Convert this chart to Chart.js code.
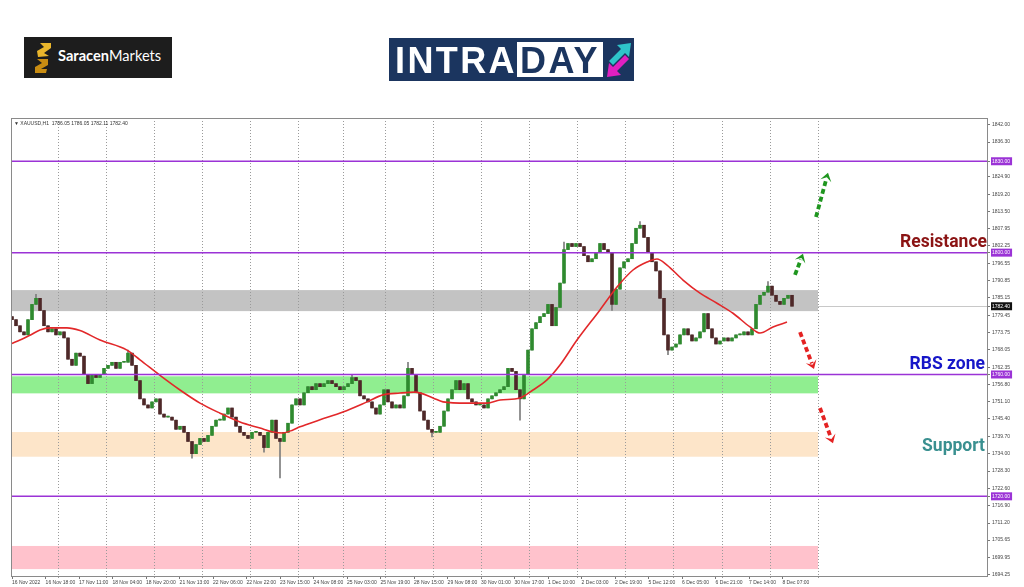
<!DOCTYPE html>
<html>
<head>
<meta charset="utf-8">
<title>XAUUSD H1 intraday</title>
<script src="https://cdn.jsdelivr.net/npm/chart.js@4.4.1/dist/chart.umd.min.js"></script>
<style>
  html, body { margin: 0; padding: 0; background: #fff; }
  #wrap { position: relative; width: 1024px; height: 587px; overflow: hidden; font-family: Roboto, "Liberation Sans", sans-serif; }
  #chart { position: absolute; left: 0; top: 0; }
  .saracen { position: absolute; left: 24px; top: 37px; width: 148px; height: 41px; background: #1d1d1d; }
  .saracen svg { position: absolute; left: 10px; top: 6px; }
  .saracen span { position: absolute; left: 34px; top: 10px; color: #fff; font: 14.6px Lato, Roboto, sans-serif; white-space: nowrap; }
  .saracen b { font-weight: 700; }
  .intraday { position: absolute; left: 389px; top: 38px; width: 245px; height: 43px; background: #1b355f; }
  .intraday .a { position: absolute; left: 6px; top: 2px; color: #fff; font: 700 36px "Liberation Sans", Arial, sans-serif; letter-spacing: 2.4px; }
  .intraday .b { position: absolute; left: 128px; top: 4px; width: 86px; height: 35px; background: #fff; }
  .intraday .b span { position: absolute; left: 3px; top: -2px; color: #1b355f; font: 700 36px "Liberation Sans", Arial, sans-serif; letter-spacing: 2.4px; }
  .intraday svg { position: absolute; left: 216px; top: 3px; }
  .info { position: absolute; left: 14px; top: 120px; font: 5px "Liberation Sans", sans-serif; color: #333; white-space: nowrap; }
  .note { position: absolute; font: 700 17.5px Roboto, sans-serif; white-space: nowrap; line-height: 18px; }
</style>
</head>
<body>
<div id="wrap">
  <canvas id="chart" width="1024" height="587"></canvas>
  <div class="saracen">
    <svg width="18" height="30" viewBox="0 0 18 30">
      <polygon points="6,0 17,0 17,5 10,10 15,13 4,14 3,8 10,4" fill="#eab62c"/>
      <polygon points="3,16 14,16 14,22 7,26 13,26 12,30 1,30 1,24 8,20" fill="#c98d12"/>
    </svg>
    <span><b>Saracen</b>Markets</span>
  </div>
  <div class="intraday">
    <div class="a">INTRA</div>
    <div class="b"><span>DAY</span></div>
    <svg width="28" height="38" viewBox="0 0 28 38">
      <polygon points="4,20 16,8 12,4 26,2 24,16 20,12 8,24" fill="#2ec4c9"/>
      <polygon points="24,18 12,30 16,34 2,36 4,22 8,26 20,14" fill="#e020c0"/>
    </svg>
  </div>
  <div class="info">&#9660; XAUUSD,H1&nbsp; 1786.05 1786.05 1782.11 1782.40</div>
  <div class="note" style="right:37px;top:232px;color:#8b1414;">Resistance</div>
  <div class="note" style="right:39px;top:354px;color:#1616c8;">RBS zone</div>
  <div class="note" style="right:39px;top:436px;color:#3a9090;">Support</div>
</div>
<script>
// 2-hour candles, closes in order
const firstOpen = 1779;
const closes = [
  1778, 1776, 1774, 1773, 1778, 1783, 1785, 1781, 1776, 1774,
  1775, 1773, 1774, 1772, 1765, 1763, 1767, 1766, 1760, 1757,
  1760, 1759, 1760, 1762, 1763, 1764, 1762, 1764, 1764, 1767,
  1763, 1758, 1752, 1750, 1749, 1751, 1752, 1747, 1746, 1746,
  1745, 1742, 1743, 1741, 1738, 1734, 1737, 1739, 1738, 1740,
  1743, 1745, 1745, 1747, 1749, 1746, 1743, 1741, 1740, 1739,
  1741, 1741, 1740, 1736, 1741, 1745, 1739, 1738, 1741, 1744,
  1750, 1752, 1750, 1754, 1756, 1755, 1757, 1756, 1757, 1758,
  1757, 1756, 1755, 1756, 1757, 1759, 1758, 1753, 1752, 1751,
  1749, 1747, 1750, 1755, 1751, 1749, 1750, 1749, 1753, 1762,
  1760, 1754, 1748, 1745, 1742, 1741, 1741, 1743, 1748, 1752,
  1755, 1758, 1755, 1757, 1752, 1751, 1750, 1750, 1749, 1752,
  1753, 1754, 1755, 1756, 1762, 1761, 1755, 1752, 1760, 1768,
  1775, 1777, 1779, 1780, 1783, 1776, 1782, 1790, 1801, 1803,
  1802, 1803, 1802, 1799, 1797, 1798, 1800, 1803, 1801, 1800,
  1783, 1788, 1795, 1797, 1798, 1803, 1808, 1809, 1805, 1800,
  1797, 1794, 1785, 1773, 1768, 1769, 1770, 1773, 1775, 1773,
  1771, 1772, 1774, 1780, 1775, 1772, 1770, 1771, 1772, 1771,
  1772, 1773, 1773, 1774, 1773, 1775, 1783, 1786, 1787, 1789,
  1786, 1784, 1783, 1785, 1786, 1782.4
];
// wicks that stick out of the bodies (candle index -> price)
const highs = { 6: 1786.3, 29: 1768, 85: 1760, 99: 1764, 138: 1803.5, 157: 1810.2, 189: 1790.5 };
const lows = { 45: 1732.5, 63: 1734.5, 67: 1726, 105: 1739.5, 127: 1745, 150: 1781, 164: 1766.5 };

// red moving average, read at points along the line
const maAt = [0, 2, 4.5, 7, 9.5, 13.75, 17, 22, 28.75, 32, 37, 42, 47, 52, 57, 62, 65.25, 67.75, 70.25, 72,
  77, 82.75, 88.75, 92.75, 97, 100.75, 105.25, 107.75, 113.75, 118.75, 122, 127, 130.25, 133.75, 137,
  141.25, 147, 151.25, 155.25, 158.75, 161.25, 163.75, 167.75, 172, 176.25, 180.25, 184.5, 187, 190.25, 193.75];
const maValues = [1770.2, 1771.3, 1772.9, 1774.6, 1775.3, 1775.3, 1774.4, 1771.3, 1768.0, 1764.8, 1759.7, 1754.9,
  1750.6, 1747.3, 1744.4, 1742.4, 1741.1, 1740.8, 1741.8, 1742.8, 1745.1, 1747.7, 1751.0, 1753.3, 1753.9,
  1754.2, 1752.3, 1751.0, 1750.6, 1750.6, 1751.6, 1752.3, 1754.9, 1758.2, 1763.1, 1771.3, 1781.2, 1788.7,
  1794.3, 1796.9, 1797.9, 1795.9, 1791.0, 1786.7, 1783.4, 1780.1, 1775.6, 1773.6, 1775.6, 1777.2];

const timeLabels = ['16 Nov 2022', '16 Nov 18:00', '17 Nov 11:00', '18 Nov 04:00', '18 Nov 20:00', '21 Nov 13:00',
  '22 Nov 06:00', '22 Nov 22:00', '23 Nov 15:00', '24 Nov 08:00', '25 Nov 03:00', '25 Nov 19:00', '28 Nov 15:00',
  '29 Nov 08:00', '30 Nov 01:00', '30 Nov 17:00', '1 Dec 10:00', '2 Dec 03:00', '2 Dec 19:00', '5 Dec 12:00',
  '6 Dec 05:00', '6 Dec 21:00', '7 Dec 14:00', '8 Dec 07:00'];
const timeLabelAt = [0, 8.4, 16.75, 25.1, 33.5, 41.9, 50.25, 58.6, 67, 75.4, 83.75, 92.1, 100.5, 108.9,
  117.25, 125.6, 134, 142.4, 150.75, 159.1, 167.5, 175.9, 184.25, 192.6];
const dayLines = [11.5, 23.5, 35.5, 47.5, 59.5, 71.5, 82.75, 93.25, 105.25, 117.25, 129.25, 141.25,
  153.25, 165.25, 177.5, 189.5, 201.5];

const priceTicks = [1842.00, 1836.30, 1830.00, 1824.90, 1819.20, 1813.50, 1807.95, 1802.25, 1800.00, 1796.55,
  1790.85, 1785.15, 1782.40, 1779.45, 1773.75, 1768.05, 1762.35, 1760.00, 1756.80, 1751.10, 1745.40,
  1739.70, 1734.00, 1728.30, 1722.60, 1720.00, 1716.90, 1711.20, 1705.65, 1699.95, 1694.25];
const levels = [1830, 1800, 1760, 1720];
const lastPrice = 1782.40;

// shaded zones: grey, RBS, support, lower
const zoneTop = [1787.7, 1759.4, 1741.1, 1703.7];
const zoneBottom = [1780.8, 1753.8, 1733.0, 1696.1];
const zoneColors = ['#c3c3c3', '#90ee90', '#fde5c9', '#ffc2cc'];
const zoneEnd = 201.5;

// dashed scenario arrows [fromBar, fromPrice, toBar, toPrice]
const arrowsUp = [[195.75, 1792.7, 197.75, 1799.6], [201, 1811.7, 204, 1826.2]];
const arrowsDown = [[197, 1773.9, 200.5, 1761.8], [202, 1749.0, 205.25, 1737.4]];

const opens = closes.map((c, i) => i === 0 ? firstOpen : closes[i - 1]);
const wickData = closes.map((c, i) => {
  const lo = Math.min(opens[i], c), hi = Math.max(opens[i], c);
  return { x: i, y: [lows[i] !== undefined ? lows[i] : lo, highs[i] !== undefined ? highs[i] : hi] };
});
const bodyData = closes.map((c, i) => ({ x: i, y: [opens[i], c] }));
const bodyColors = closes.map((c, i) => c >= opens[i] ? '#2f8a2f' : '#4e2828');

function drawArrow(ctx, x1, y1, x2, y2, color) {
  const ang = Math.atan2(y2 - y1, x2 - x1);
  const head = 10;
  ctx.strokeStyle = color;
  ctx.lineWidth = 3.8;
  ctx.setLineDash([5, 3]);
  ctx.beginPath();
  ctx.moveTo(x1, y1);
  ctx.lineTo(x2 - Math.cos(ang) * head * 0.6, y2 - Math.sin(ang) * head * 0.6);
  ctx.stroke();
  ctx.setLineDash([]);
  ctx.fillStyle = color;
  ctx.beginPath();
  ctx.moveTo(x2, y2);
  ctx.lineTo(x2 - head * Math.cos(ang - 0.6), y2 - head * Math.sin(ang - 0.6));
  ctx.lineTo(x2 - head * 0.45 * Math.cos(ang), y2 - head * 0.45 * Math.sin(ang));
  ctx.lineTo(x2 - head * Math.cos(ang + 0.6), y2 - head * Math.sin(ang + 0.6));
  ctx.closePath();
  ctx.fill();
}

const overlay = {
  id: 'overlay',
  beforeDatasetsDraw(chart) {
    const { ctx, chartArea: a, scales: { x, y } } = chart;
    ctx.save();
    const xe = x.getPixelForValue(zoneEnd);
    zoneTop.forEach((t, i) => {
      const y1 = y.getPixelForValue(t), y2 = y.getPixelForValue(zoneBottom[i]);
      ctx.fillStyle = zoneColors[i];
      ctx.fillRect(a.left, y1, xe - a.left, y2 - y1);
    });
    ctx.strokeStyle = '#9a9a9a';
    ctx.lineWidth = 1;
    ctx.setLineDash([1, 2]);
    dayLines.forEach(d => {
      const px = Math.round(x.getPixelForValue(d)) + 0.5;
      ctx.beginPath();
      ctx.moveTo(px, a.top);
      ctx.lineTo(px, a.bottom + 3);
      ctx.stroke();
    });
    ctx.setLineDash([]);
    // bid line
    const yp = Math.round(y.getPixelForValue(lastPrice)) + 0.5;
    ctx.strokeStyle = '#c8c8c8';
    ctx.beginPath();
    ctx.moveTo(xe, yp);
    ctx.lineTo(a.right, yp);
    ctx.stroke();
    ctx.restore();
  },
  afterDatasetsDraw(chart) {
    const { ctx, chartArea: a, scales: { x, y } } = chart;
    ctx.save();
    ctx.strokeStyle = '#9b33d6';
    ctx.lineWidth = 1.5;
    levels.forEach(l => {
      const yp = y.getPixelForValue(l);
      ctx.beginPath();
      ctx.moveTo(a.left, yp);
      ctx.lineTo(a.right, yp);
      ctx.stroke();
    });
    arrowsUp.forEach(r => drawArrow(ctx, x.getPixelForValue(r[0]), y.getPixelForValue(r[1]),
      x.getPixelForValue(r[2]), y.getPixelForValue(r[3]), '#1f961f'));
    arrowsDown.forEach(r => drawArrow(ctx, x.getPixelForValue(r[0]), y.getPixelForValue(r[1]),
      x.getPixelForValue(r[2]), y.getPixelForValue(r[3]), '#e42222'));
    ctx.strokeStyle = '#8a8a8a';
    ctx.lineWidth = 1;
    ctx.strokeRect(a.left + 0.5, a.top + 0.5, a.right - a.left, a.bottom - a.top);
    ctx.restore();
  }
};

new Chart(document.getElementById('chart'), {
  type: 'bar',
  data: {
    datasets: [
      { type: 'line', data: maAt.map((b, i) => ({ x: b, y: maValues[i] })), borderColor: '#e2282a',
        borderWidth: 1.6, pointRadius: 0, cubicInterpolationMode: 'monotone', order: 0 },
      { data: bodyData, backgroundColor: bodyColors, barThickness: 3, minBarLength: 1, grouped: false, order: 1 },
      { data: wickData, backgroundColor: '#7d7d7d', barThickness: 1, minBarLength: 1, grouped: false, order: 2 }
    ]
  },
  options: {
    responsive: false,
    animation: false,
    events: [],
    layout: { padding: { top: 118, left: 11, right: 0, bottom: 0 } },
    plugins: { legend: { display: false }, tooltip: { enabled: false } },
    scales: {
      x: {
        type: 'linear', min: -0.25, max: 243.75, offset: false,
        afterBuildTicks: s => { s.ticks = timeLabelAt.map(v => ({ value: v })); },
        afterFit: s => { s.height = 11; },
        ticks: {
          autoSkip: false, maxRotation: 0, align: 'start', padding: 1, color: '#444',
          font: { size: 5, family: 'Liberation Sans' },
          callback: (v, i) => timeLabels[i]
        },
        grid: { drawOnChartArea: false, offset: false, tickLength: 3, color: '#777' },
        border: { color: '#8a8a8a' }
      },
      y: {
        position: 'right', min: 1693.84, max: 1844.2,
        afterBuildTicks: s => { s.ticks = priceTicks.map(v => ({ value: v })); },
        afterFit: s => { s.width = 37; },
        ticks: {
          autoSkip: false, padding: 2,
          font: { size: 5, family: 'Liberation Sans' },
          color: c => (levels.includes(c.tick.value) || c.tick.value === lastPrice) ? '#fff' : '#444',
          showLabelBackdrop: c => levels.includes(c.tick.value) || c.tick.value === lastPrice,
          backdropColor: c => c.tick.value === lastPrice ? '#111' : '#9b33d6',
          backdropPadding: { top: 1, bottom: 1, left: 1, right: 2 },
          callback: v => v.toFixed(2)
        },
        grid: { drawOnChartArea: false, tickLength: 3, color: '#777' },
        border: { color: '#8a8a8a' }
      }
    }
  },
  plugins: [overlay]
});
</script>
</body>
</html>
